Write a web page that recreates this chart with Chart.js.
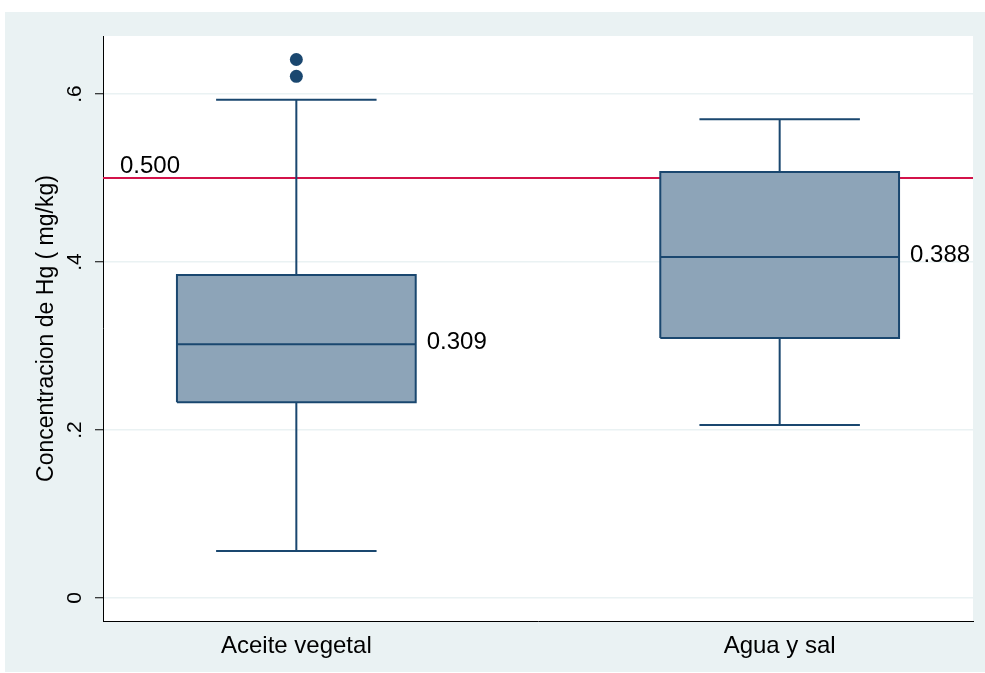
<!DOCTYPE html>
<html>
<head>
<meta charset="utf-8">
<script src="https://cdn.jsdelivr.net/npm/chart.js@4.4.1/dist/chart.umd.min.js"></script>
<style>
  html, body { margin: 0; padding: 0; background: #ffffff; }
  canvas { display: block; }
</style>
</head>
<body>
<canvas id="chart" width="985" height="673"></canvas>
<script>
// Mercury concentration by preservation medium (box summaries, mg/kg)
const categories = ['Aceite vegetal', 'Agua y sal'];
const whiskerLow = [0.056, 0.206];
const q1 = [0.233, 0.3095];
const median = [0.302, 0.406];
const q3 = [0.3845, 0.507];
const whiskerHigh = [0.593, 0.570];
const outliers = [[0.621, 0.641], []];
const meanValues = [0.309, 0.388];
const limitValue = 0.5;
const yTicks = [0, 0.2, 0.4, 0.6];

const NAVY = '#1A476F';
const BOX_FILL = '#8DA4B8';
const LIMIT_RED = '#D3134A';
const PANEL = '#EAF2F3';
const FONT = '"Liberation Sans", Arial, Helvetica, sans-serif';
const BOX_HALF = 0.247;
const CAP_HALF = 0.166;
const X_MIN = 0.6, X_MAX = 2.4;

const datasets = [];

// reference limit line
datasets.push({
  data: [{ x: X_MIN, y: limitValue }, { x: X_MAX, y: limitValue }],
  showLine: true, borderColor: LIMIT_RED, borderWidth: 2,
  pointRadius: 0, pointHoverRadius: 0, fill: false, order: 10
});

categories.forEach((name, i) => {
  const x = i + 1;
  // box body
  datasets.push({
    data: [{ x: x - BOX_HALF, y: q3[i] }, { x: x + BOX_HALF, y: q3[i] }],
    showLine: true, borderWidth: 0, borderColor: 'rgba(0,0,0,0)',
    backgroundColor: BOX_FILL, fill: { value: q1[i] },
    pointRadius: 0, pointHoverRadius: 0, order: 8
  });
  // outline, median and whiskers
  const gap = { x: x, y: null };
  datasets.push({
    data: [
      { x: x - BOX_HALF, y: q1[i] }, { x: x + BOX_HALF, y: q1[i] },
      { x: x + BOX_HALF, y: q3[i] }, { x: x - BOX_HALF, y: q3[i] },
      { x: x - BOX_HALF, y: q1[i] }, gap,
      { x: x - BOX_HALF, y: median[i] }, { x: x + BOX_HALF, y: median[i] }, gap,
      { x: x, y: q3[i] }, { x: x, y: whiskerHigh[i] }, gap,
      { x: x - CAP_HALF, y: whiskerHigh[i] }, { x: x + CAP_HALF, y: whiskerHigh[i] }, gap,
      { x: x, y: q1[i] }, { x: x, y: whiskerLow[i] }, gap,
      { x: x - CAP_HALF, y: whiskerLow[i] }, { x: x + CAP_HALF, y: whiskerLow[i] }
    ],
    showLine: true, spanGaps: false, borderColor: NAVY, borderWidth: 2,
    borderJoinStyle: 'miter', borderCapStyle: 'butt',
    pointRadius: 0, pointHoverRadius: 0, fill: false, order: 2
  });
});

// outside values
datasets.push({
  data: outliers.flatMap((vals, i) => vals.map(v => ({ x: i + 1, y: v }))),
  showLine: false, pointRadius: 6.5, pointHoverRadius: 6.5,
  backgroundColor: NAVY, borderWidth: 0, order: 1
});

const panelBackground = {
  id: 'panelBackground',
  beforeDraw(chart) {
    const { ctx, width, height, chartArea } = chart;
    ctx.save();
    ctx.fillStyle = '#ffffff';
    ctx.fillRect(0, 0, width, height);
    ctx.fillStyle = PANEL;
    ctx.fillRect(5, 12, width - 5, height - 13);
    ctx.fillStyle = '#ffffff';
    ctx.fillRect(chartArea.left, chartArea.top,
      chartArea.right - chartArea.left, chartArea.bottom - chartArea.top);
    ctx.restore();
  }
};

const annotations = {
  id: 'annotations',
  afterDraw(chart) {
    const { ctx, chartArea } = chart;
    const xs = chart.scales.x, ys = chart.scales.y;
    ctx.save();
    ctx.fillStyle = '#000000';

    // rotated y tick labels
    ctx.font = '21px ' + FONT;
    ctx.textAlign = 'center';
    ctx.textBaseline = 'alphabetic';
    ys.ticks.forEach(t => {
      const label = t.value === 0 ? '0' : t.value.toFixed(1).replace(/^0/, '');
      ctx.save();
      ctx.translate(chartArea.left - 22, ys.getPixelForValue(t.value));
      ctx.rotate(-Math.PI / 2);
      ctx.fillText(label, 0, 0);
      ctx.restore();
    });

    // mean labels beside each box
    ctx.font = '24px ' + FONT;
    ctx.textAlign = 'left';
    ctx.textBaseline = 'middle';
    categories.forEach((name, i) => {
      const px = xs.getPixelForValue(i + 1 + BOX_HALF) + 11;
      const py = ys.getPixelForValue(median[i]) - 2;
      ctx.fillText(meanValues[i].toFixed(3), px, py);
    });

    // limit label
    ctx.textBaseline = 'alphabetic';
    ctx.fillText(limitValue.toFixed(3), chartArea.left + 17, ys.getPixelForValue(limitValue) - 5);
    ctx.restore();
  }
};

new Chart(document.getElementById('chart'), {
  type: 'scatter',
  data: { datasets },
  options: {
    responsive: false,
    animation: false,
    devicePixelRatio: 1,
    events: [],
    layout: { padding: { top: 36, right: 12, bottom: 0, left: 0 } },
    plugins: { legend: { display: false }, tooltip: { enabled: false } },
    scales: {
      x: {
        type: 'linear',
        min: X_MIN, max: X_MAX,
        afterBuildTicks(scale) { scale.ticks = categories.map((c, i) => ({ value: i + 1 })); },
        afterFit(scale) { scale.height = 52; },
        ticks: {
          autoSkip: false,
          maxRotation: 0,
          padding: 11,
          color: '#000000',
          font: { family: FONT, size: 24 },
          callback: (v) => categories[Math.round(v) - 1]
        },
        grid: { display: true, drawOnChartArea: false, drawTicks: false },
        border: { display: true, color: '#000000', width: 1 }
      },
      y: {
        type: 'linear',
        min: -0.0274, max: 0.669,
        afterBuildTicks(scale) { scale.ticks = yTicks.map(v => ({ value: v })); },
        afterFit(scale) { scale.width = 103; },
        ticks: { display: false },
        grid: { color: PANEL, lineWidth: 1.5, tickLength: 8, tickColor: '#000000', tickWidth: 1 },
        border: { display: true, color: '#000000', width: 1 },
        title: {
          display: true,
          text: 'Concentracion de Hg ( mg/kg)',
          color: '#000000',
          font: { family: FONT, size: 23 },
          padding: { top: 33, bottom: 0 }
        }
      }
    }
  },
  plugins: [panelBackground, annotations]
});
</script>
</body>
</html>
